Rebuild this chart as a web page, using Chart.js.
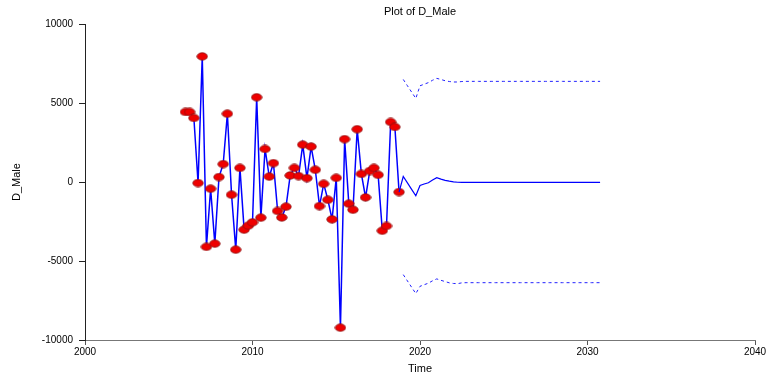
<!DOCTYPE html>
<html>
<head>
<meta charset="utf-8">
<script src="https://cdn.jsdelivr.net/npm/chart.js@4"></script>
<style>
  html, body { margin: 0; padding: 0; background: #fff; }
  #wrap { width: 769px; height: 379px; }
</style>
</head>
<body>
<div id="wrap"><canvas id="plot" width="769" height="379"></canvas></div>
<script>
// observed D_Male, quarterly from 2006 Q1
const obsStart = 2006;
const obsValues = [
  4440, 4440, 4060, -60, 7960, -4100, -420, -3900, 320, 1140,
  4330, -800, -4280, 900, -3010, -2760, -2550, 5370, -2250, 2100,
  350, 1200, -1830, -2240, -1560, 420, 900, 380, 2370, 250,
  2250, 780, -1520, -110, -1120, -2360, 270, -9220, 2720, -1370,
  -1750, 3350, 520, -970, 700, 900, 460, -3080, -2780, 3810,
  3490, -630
];

// forecast, quarterly from 2019 Q1
const fcStart = 2019;
const fcValues = [
  354, -50, -460, -866, -215, -120, -40, 130, 280, 190,
  110, 60, 20, -10, -20, -20, -20, -20, -20, -20,
  -20, -20, -20, -20, -20, -20, -20, -20, -20, -20,
  -20, -20, -20, -20, -20, -20, -20, -20, -20, -20,
  -20, -20, -20, -20, -20, -20, -20, -20
];
const fcUpper = [
  6500, 6100, 5700, 5300, 6100, 6200, 6300, 6450, 6570, 6500,
  6420, 6370, 6340, 6340, 6370, 6380, 6380, 6380, 6380, 6380,
  6380, 6380, 6380, 6380, 6380, 6380, 6380, 6380, 6380, 6380,
  6380, 6380, 6380, 6380, 6380, 6380, 6380, 6380, 6380, 6380,
  6380, 6380, 6380, 6380, 6380, 6380, 6380, 6380
];
const fcLower = [
  -5860, -6260, -6660, -7060, -6600, -6500, -6400, -6250, -6130, -6220,
  -6300, -6380, -6420, -6430, -6380, -6370, -6370, -6370, -6370, -6370,
  -6370, -6370, -6370, -6370, -6370, -6370, -6370, -6370, -6370, -6370,
  -6370, -6370, -6370, -6370, -6370, -6370, -6370, -6370, -6370, -6370,
  -6370, -6370, -6370, -6370, -6370, -6370, -6370, -6370
];

const xTicks = [2000, 2010, 2020, 2030, 2040];
const yTicks = [-10000, -5000, 0, 5000, 10000];

const toPoints = (start, vals) => vals.map((v, i) => ({x: start + i / 4, y: v}));

// red ellipse marker
const marker = document.createElement('canvas');
marker.width = 12; marker.height = 9;
const mctx = marker.getContext('2d');
mctx.beginPath();
mctx.ellipse(6, 4.5, 5.2, 3.7, 0, 0, Math.PI * 2);
mctx.fillStyle = '#ee0000';
mctx.fill();
mctx.lineWidth = 0.8;
mctx.strokeStyle = '#8a1010';
mctx.stroke();

const lastObs = {x: obsStart + (obsValues.length - 1) / 4, y: obsValues[obsValues.length - 1]};

const axisFont = {family: 'Liberation Sans, Arial, sans-serif', size: 10};

new Chart(document.getElementById('plot'), {
  type: 'line',
  data: {
    datasets: [
      {
        data: [lastObs].concat(toPoints(fcStart, fcValues)),
        borderColor: '#0000ff', borderWidth: 1.2, pointRadius: 0, tension: 0
      },
      {
        data: toPoints(fcStart, fcUpper),
        borderColor: '#2222ff', borderWidth: 1, borderDash: [3, 3], pointRadius: 0
      },
      {
        data: toPoints(fcStart, fcLower),
        borderColor: '#2222ff', borderWidth: 1, borderDash: [3, 3], pointRadius: 0
      },
      {
        data: toPoints(obsStart, obsValues),
        borderColor: '#0000ff', borderWidth: 1.5,
        pointStyle: marker, pointRadius: 5, tension: 0
      }
    ]
  },
  options: {
    responsive: false,
    animation: false,
    layout: {padding: {top: 0, right: 14, left: 0, bottom: 0}},
    plugins: {
      legend: {display: false},
      tooltip: {enabled: false},
      title: {
        display: true,
        fullSize: false,
        text: 'Plot of D_Male',
        color: '#000',
        font: {family: 'Liberation Sans, Arial, sans-serif', size: 11, weight: 'normal'},
        padding: {top: 5, bottom: 6}
      }
    },
    scales: {
      x: {
        type: 'linear',
        min: 2000, max: 2040,
        afterBuildTicks: s => { s.ticks = xTicks.map(v => ({value: v})); },
        afterFit: s => { s.height = 39; },
        ticks: {color: '#000', font: axisFont, padding: 1, callback: v => String(v)},
        grid: {drawOnChartArea: false, drawTicks: true, tickLength: 5, color: '#555'},
        border: {display: true, color: '#777', width: 1},
        title: {display: true, text: 'Time', color: '#000',
                font: {family: 'Liberation Sans, Arial, sans-serif', size: 11},
                padding: {top: 0, bottom: 3}}
      },
      y: {
        min: -10000, max: 10000,
        afterBuildTicks: s => { s.ticks = yTicks.map(v => ({value: v})); },
        afterFit: s => { s.width = 85; },
        ticks: {color: '#000', font: axisFont, padding: 6, callback: v => String(v)},
        grid: {drawOnChartArea: false, drawTicks: true, tickLength: 6, color: '#222'},
        border: {display: true, color: '#222', width: 1},
        title: {display: true, text: 'D_Male', color: '#000',
                font: {family: 'Liberation Sans, Arial, sans-serif', size: 11},
                padding: {top: 10, bottom: 0}}
      }
    }
  }
});
</script>
</body>
</html>
